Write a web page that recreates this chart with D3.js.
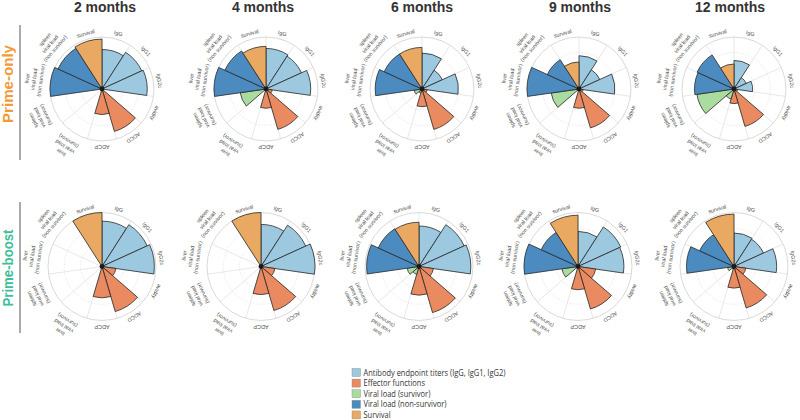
<!DOCTYPE html>
<html><head><meta charset="utf-8">
<script src="https://cdn.jsdelivr.net/npm/d3@7"></script>
<style>
html,body{margin:0;padding:0;background:#fff;}
svg{display:block;}
</style></head>
<body>
<svg id="chart" width="800" height="420"></svg>
<script>
// ---------- data ----------
const categories = ["IgG","IgG1","IgG2c","avidity","ADCD","ADCP",
  "liver|viral load|(survivor)","spleen|viral load|(survivor)",
  "liver|viral load|(non survivor)","spleen|viral load|(non survivor)","survival"];
const categoryGroup = ["ab","ab","ab","eff","eff","eff","vs","vs","vns","vns","surv"];
const timepoints = ["2 months","4 months","6 months","9 months","12 months"];
const regimens = ["Prime-only","Prime-boost"];
// values: relative scores (0-1) per category, one row per time point
const primeOnly = [
  [0.76,0.84,0.87,0.00,0.85,0.49,0.00,0.00,1.00,0.93,0.96],
  [0.78,0.75,0.86,0.12,0.81,0.37,0.00,0.50,1.00,0.87,0.82],
  [0.69,0.43,0.70,0.10,0.81,0.34,0.08,0.15,0.90,0.80,0.80],
  [0.64,0.44,0.69,0.08,0.78,0.37,0.00,0.54,1.00,0.67,0.52],
  [0.55,0.26,0.36,0.07,0.75,0.28,0.20,0.72,0.76,0.78,0.48]
];
const primeBoost = [
  [0.84,0.92,0.97,0.26,0.87,0.58,0.00,0.00,0.00,0.00,1.00],
  [0.78,0.91,1.00,0.26,0.85,0.52,0.00,0.00,0.00,0.00,1.00],
  [0.75,0.92,0.96,0.27,0.89,0.53,0.15,0.22,0.97,0.83,0.82],
  [0.65,0.87,0.85,0.33,0.82,0.43,0.00,0.30,1.00,0.75,0.95],
  [0.62,0.60,0.79,0.22,0.80,0.40,0.05,0.12,0.88,0.70,0.97]
];
const gridLevels = [0.4, 0.7];
const legendLabels = ["Antibody endpoint titers (IgG, IgG1, IgG2)","Effector functions",
  "Viral load (survivor)","Viral load (non-survivor)","Survival"];
const legendGroups = ["ab","eff","vs","vns","surv"];

// ---------- styling / layout ----------
const colors = {ab:"#9cc9e0", eff:"#ea8a60", vs:"#aadca0", vns:"#4b8bc0", surv:"#eaa962"};
const rowR = [52, 54];
const rowCY = [89, 266.5];
const rowCX = [[102,266,422,579,734],[102,261,419,578,734]];
const titleX = [105,263,422,580,730];
const regimenColors = ["#f29a35","#3dbf9b"];
const regimenCY = [84, 268];
const regimenLine = [[25,160],[202,333]];
const regimenLen = [78,77];

const svg = d3.select("#chart");
const angle = d3.scaleBand().domain(categories).range([0, 2*Math.PI]).padding(0);
const arc = d3.arc().innerRadius(0);

// titles
svg.selectAll("text.title").data(timepoints).join("text")
  .attr("class","title")
  .attr("x",(d,i)=>titleX[i]).attr("y",12)
  .attr("text-anchor","middle")
  .attr("font-family","Liberation Sans, Arial, sans-serif")
  .attr("font-weight","bold").attr("font-size",14).attr("fill","#333")
  .text(d=>d);

// row labels
regimens.forEach((reg,ri)=>{
  svg.append("line").attr("x1",20).attr("x2",20)
    .attr("y1",regimenLine[ri][0]).attr("y2",regimenLine[ri][1])
    .attr("stroke","#555").attr("stroke-width",1);
  svg.append("text")
    .attr("transform",`translate(12.5,${regimenCY[ri]}) rotate(-90)`)
    .attr("text-anchor","middle")
    .attr("font-family","Liberation Sans, Arial, sans-serif")
    .attr("font-weight","bold").attr("font-size",15)
    .attr("fill",regimenColors[ri])
    .attr("textLength",regimenLen[ri]).attr("lengthAdjust","spacingAndGlyphs")
    .text(reg);
});

function drawPanel(values, cx, cy, R){
  const radius = d3.scaleLinear().domain([0,1]).range([0,R]);
  const g = svg.append("g").attr("transform",`translate(${cx},${cy})`);
  // grid
  gridLevels.forEach(t=>{
    g.append("circle").attr("r",radius(t)).attr("fill","none")
      .attr("stroke","#dadada").attr("stroke-width",0.6).attr("stroke-dasharray","1.5,1.5");
  });
  g.append("circle").attr("r",radius(1)).attr("fill","none")
    .attr("stroke","#cfcfcf").attr("stroke-width",0.8);
  g.selectAll("line.spoke").data(categories).join("line").attr("class","spoke")
    .attr("x1",0).attr("y1",0)
    .attr("x2",d=>radius(1)*Math.sin(angle(d)))
    .attr("y2",d=>-radius(1)*Math.cos(angle(d)))
    .attr("stroke","#d6d6d6").attr("stroke-width",0.6);
  // sectors
  g.selectAll("path.sector").data(categories.map((c,i)=>({c,i,v:values[i]})).filter(d=>d.v>0))
    .join("path").attr("class","sector")
    .attr("d",d=>arc({startAngle:angle(d.c), endAngle:angle(d.c)+angle.bandwidth(), outerRadius:radius(d.v)}))
    .attr("fill",d=>colors[categoryGroup[d.i]])
    .attr("stroke","#2a2a2a").attr("stroke-width",0.8).attr("stroke-linejoin","round");
  // center dot
  g.append("circle").attr("r",2.4).attr("fill","#1a1a1a");
  // labels
  categories.forEach(c=>{
    const a = (angle(c)+angle.bandwidth()/2)*180/Math.PI;
    const lines = c.split("|");
    const base = lines.length > 1 ? 8 : 4;
    const lg = g.append("g").attr("transform",`rotate(${a})`);
    lines.forEach((ln,li)=>{
      const r = radius(1) + base + (lines.length-1-li)*6.8;
      lg.append("text").attr("x",0).attr("y",-r)
        .attr("text-anchor","middle")
        .attr("font-family","Liberation Sans, Arial, sans-serif")
        .attr("font-size",5.4).attr("fill","#505050")
        .text(ln);
    });
  });
}

[primeOnly, primeBoost].forEach((rows,ri)=>{
  rows.forEach((vals,ti)=> drawPanel(vals, rowCX[ri][ti], rowCY[ri], rowR[ri]));
});

// legend
const lg = svg.append("g").attr("transform","translate(352,368.5)");
legendLabels.forEach((lab,i)=>{
  const y = i*10.6;
  lg.append("rect").attr("x",0).attr("y",y).attr("width",8.5).attr("height",8)
    .attr("fill",colors[legendGroups[i]]).attr("stroke","#888").attr("stroke-width",0.4);
  lg.append("text").attr("transform",`translate(11.5,${y+7}) scale(0.89,1)`)
    .attr("font-family","Open Sans, sans-serif").attr("font-size",8.4).attr("fill","#333")
    .text(lab);
});
</script>
</body></html>
